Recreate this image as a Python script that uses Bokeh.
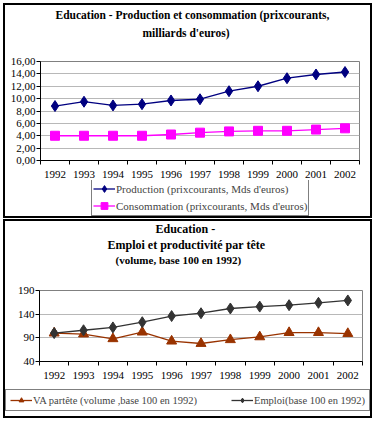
from bokeh.plotting import figure
from bokeh.layouts import column
from bokeh.models import Range1d, FixedTicker, Legend, LegendItem, Label
from bokeh.embed import file_html
from bokeh.resources import INLINE

# ---------------- data ----------------
years = ["1992", "1993", "1994", "1995", "1996", "1997", "1998", "1999", "2000", "2001", "2002"]
production = [8.8, 9.5, 8.9, 9.1, 9.7, 9.9, 11.2, 12.0, 13.3, 13.9, 14.3]
consommation = [4.0, 4.0, 4.0, 4.0, 4.2, 4.5, 4.7, 4.8, 4.8, 5.0, 5.2]
va_par_tete = [100, 98, 88, 102, 83, 78, 86, 92, 101, 101, 99]
emploi = [100, 106, 112, 123, 136, 142, 152, 156, 159, 164, 169]

y1_ticks = [0, 2, 4, 6, 8, 10, 12, 14, 16]
y1_tick_labels = ["0,00", "2,00", "4,00", "6,00", "8,00", "10,00", "12,00", "14,00", "16,00"]
y2_ticks = [40, 90, 140, 190]
y2_tick_labels = ["40", "90", "140", "190"]

title1_lines = ["Education - Production et consommation (prixcourants,", "milliards d'euros)"]
title2_lines = ["Education -", "Emploi et productivité par tête", "(volume, base 100 en 1992)"]
legend1_labels = ["Production (prixcourants, Mds d'euros)", "Consommation (prixcourants, Mds d'euros)"]
legend2_labels = ["VA partête (volume ,base 100 en 1992)", "Emploi(base 100 en 1992)"]

FONT = "Liberation Serif"
W = 365
idx = list(range(len(years)))

STYLE = {
    "prod": dict(line_color="#000080", marker="diamond", size=11),
    "cons": dict(line_color="#FF00FF", marker="square", size=9),
    "va": dict(line_color="#993300", marker="triangle", size=10),
    "emp": dict(line_color="#333333", marker="diamond", size=11),
}


def blank_fig(height):
    # frame-only figure (no axes) used for titles and legends
    p = figure(width=W, height=height, x_range=Range1d(0, 1), y_range=Range1d(-2, -1),
               x_axis_type=None, y_axis_type=None, output_backend="svg",
               toolbar_location=None, min_border=0, frame_align=False,
               background_fill_color="white", border_fill_color="white")
    p.outline_line_color = None
    p.grid.visible = False
    return p


def plot_fig(height, b_left, b_right, b_top, b_bottom, y_lo, y_hi, yticks, ylabels):
    p = figure(width=W, height=height,
               x_range=Range1d(-0.5, len(years) - 0.5), y_range=Range1d(y_lo, y_hi),
               output_backend="svg", toolbar_location=None, frame_align=False,
               min_border_left=b_left, min_border_right=b_right,
               min_border_top=b_top, min_border_bottom=b_bottom,
               background_fill_color="white", border_fill_color="white")
    p.outline_line_color = "#808080"
    p.outline_line_width = 1
    p.xaxis.ticker = FixedTicker(ticks=idx, minor_ticks=[i - 0.5 for i in range(len(years) + 1)])
    p.xaxis.major_label_overrides = {i: y for i, y in enumerate(years)}
    p.xaxis.major_tick_line_color = None
    p.xaxis.major_tick_out = 0
    p.xaxis.major_tick_in = 0
    p.xaxis.minor_tick_line_color = "black"
    p.xaxis.minor_tick_out = 4
    p.xaxis.minor_tick_in = 0
    p.xaxis.major_label_standoff = 6
    p.xgrid.grid_line_color = None
    yt = FixedTicker(ticks=yticks)
    p.yaxis.ticker = yt
    p.ygrid.ticker = yt
    p.yaxis.major_label_overrides = {t: l for t, l in zip(yticks, ylabels)}
    p.yaxis.major_tick_line_color = "black"
    p.yaxis.major_tick_out = 4
    p.yaxis.major_tick_in = 0
    p.yaxis.minor_tick_line_color = None
    p.yaxis.major_label_standoff = 1
    p.ygrid.grid_line_color = "#b8b8b8"
    for ax in (p.xaxis, p.yaxis):
        ax.axis_line_color = "black"
        ax.major_label_text_font = FONT
        ax.major_label_text_font_size = "11px"
        ax.major_label_text_color = "black"
    return p


def series(p, xs, ys, st):
    r1 = p.line(xs, ys, line_color=st["line_color"], line_width=1.3)
    r2 = p.scatter(xs, ys, marker=st["marker"], size=st["size"],
                   fill_color=st["line_color"], line_color=st["line_color"])
    return r1, r2


def legend_item(p, label, ys, st):
    # legend key: same series drawn in the legend strip, outside its visible range
    r1, r2 = series(p, idx, ys, st)
    return LegendItem(label=label, renderers=[r1, r2])


def title_labels(p, lines, xs, ys, sizes):
    for text, x, y, fs in zip(lines, xs, ys, sizes):
        p.add_layout(Label(x=x, y=y, x_units="screen", y_units="screen", text=text,
                           text_align="left", text_baseline="middle", text_font=FONT,
                           text_font_style="bold", text_font_size=fs, text_color="black"))


# ---------------- panel 1 ----------------
t1 = blank_fig(43)
title_labels(t1, title1_lines, [50, 137], [34, 16], ["11.5px", "11.5px"])

p1 = plot_fig(132, 35, 11, 13, 19, 0, 16, y1_ticks, y1_tick_labels)
series(p1, idx, production, STYLE["prod"])
series(p1, idx, consommation, STYLE["cons"])

g1 = blank_fig(36)
leg1 = Legend(items=[legend_item(g1, legend1_labels[0], production, STYLE["prod"]),
                     legend_item(g1, legend1_labels[1], consommation, STYLE["cons"])],
              location=(86, 0), orientation="vertical",
              border_line_color="black", border_line_width=1,
              background_fill_color="white", background_fill_alpha=1,
              label_text_font=FONT, label_text_font_size="11px",
              label_standoff=1, glyph_width=22, glyph_height=17, label_height=17,
              spacing=0, padding=1, margin=0)
g1.add_layout(leg1, "center")

# ---------------- panel 2 ----------------
t2 = blank_fig(48)
title_labels(t2, title2_lines, [150, 102, 110], [41, 25, 10], ["12px", "12px", "11px"])

p2 = plot_fig(112, 34, 8, 21, 19, 40, 190, y2_ticks, y2_tick_labels)
series(p2, idx, va_par_tete, STYLE["va"])
series(p2, idx, emploi, STYLE["emp"])

g2 = blank_fig(35)
leg2 = Legend(items=[legend_item(g2, legend2_labels[0], va_par_tete, STYLE["va"]),
                     legend_item(g2, legend2_labels[1], emploi, STYLE["emp"])],
              location=(0, 5), orientation="horizontal",
              border_line_color="black", border_line_width=1,
              background_fill_color="white", background_fill_alpha=1,
              label_text_font=FONT, label_text_font_size="10.5px",
              label_standoff=1, glyph_width=22, glyph_height=12, label_height=12,
              spacing=34, padding=4, margin=0)
g2.add_layout(leg2, "center")

BOX = {"outline": "2px solid black"}
panel1 = column(t1, p1, g1, spacing=0, styles=BOX, margin=(5, 0, 0, 5))
panel2 = column(t2, p2, g2, spacing=0, styles=BOX, margin=(0, 0, 0, 5))
layout = column(panel1, panel2, spacing=5)

open("out.html", "w").write(file_html(layout, INLINE))
